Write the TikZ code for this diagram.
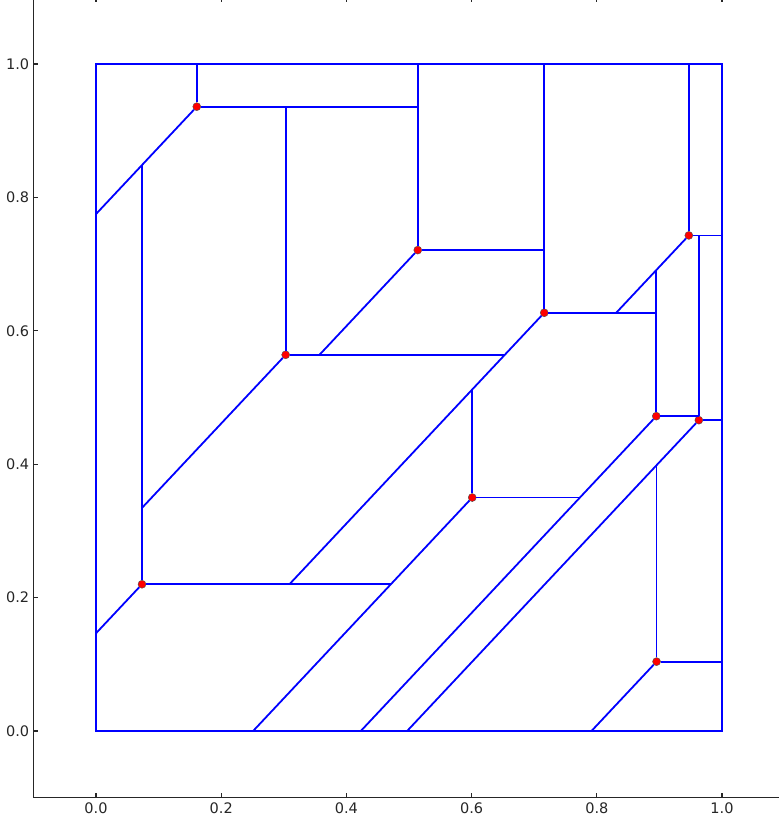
\documentclass[tikz,border=0pt]{standalone}
\usepackage{fontspec}
\setmainfont{DejaVu Sans}
\begin{document}
\begin{tikzpicture}[x=626pt,y=667pt,
  edge/.style={blue,line width=1.8pt},
  site/.style={circle,fill=red,draw=black!70,line width=0.4pt,inner sep=0pt,minimum size=8pt},
  spine/.style={black!85,line width=1.2pt},
  lbl/.style={font=\fontsize{14.5}{16}\selectfont,text=black!85,inner sep=0pt}]
  \useasboundingbox (-0.15335,-0.13793) rectangle (1.08946,1.09595);
  % axes
  \draw[spine] (-0.1,1.2) -- (-0.1,-0.1) -- (1.2,-0.1);
  \foreach \t in {0.0,0.2,0.4,0.6,0.8,1.0} {
    \draw[spine] (\t,-0.1) -- ++(0,5pt);
    \draw[spine] (\t,1.1) -- ++(0,-5pt);
    \draw[spine] (-0.1,\t) -- ++(5pt,0);
    \node[lbl,anchor=base] at (\t,-0.1234) {\t};
    \node[lbl,anchor=base east] at ([xshift=-4pt,yshift=-5.3pt]-0.1,\t) {\t};
  }
  % sites
  \node[site] (p1) at (0.161,0.936) {};
  \node[site] (p2) at (0.303,0.564) {};
  \node[site] (p3) at (0.514,0.721) {};
  \node[site] (p4) at (0.716,0.627) {};
  \node[site] (p5) at (0.947,0.743) {};
  \node[site] (p6) at (0.895,0.472) {};
  \node[site] (p7) at (0.963,0.466) {};
  \node[site] (p8) at (0.601,0.350) {};
  \node[site] (p9) at (0.0735,0.220) {};
  \node[site] (p10) at (0.8955,0.104) {};
  % border points
  \coordinate (o) at (0,0);
  \coordinate (c) at (1,1);
  \coordinate (top1) at (0.161,1);
  \coordinate (top3) at (0.514,1);
  \coordinate (top4) at (0.716,1);
  \coordinate (top5) at (0.947,1);
  \coordinate (bot8) at (0.251,0);
  \coordinate (bot6) at (0.423,0);
  \coordinate (bot7) at (0.497,0);
  \coordinate (bot10) at (0.7915,0);
  \coordinate (lft1) at (0,0.775);
  \coordinate (lft9) at (0,0.1465);
  \coordinate (rgt5) at (1,0.743);
  \coordinate (rgt7) at (1,0.466);
  \coordinate (rgt10) at (1,0.104);
  % inner junctions
  \coordinate (j1) at (0.0735,0.8485);
  \coordinate (j2) at (0.514,0.936);
  \coordinate (j3) at (0.303,0.936);
  \coordinate (j4) at (0.653,0.564);
  \coordinate (j5) at (0.0735,0.3345);
  \coordinate (j6) at (0.716,0.721);
  \coordinate (j7) at (0.357,0.564);
  \coordinate (j8) at (0.895,0.627);
  \coordinate (j9) at (0.309,0.220);
  \coordinate (j10) at (0.963,0.743);
  \coordinate (j11) at (0.831,0.627);
  \coordinate (j12) at (0.895,0.691);
  \coordinate (j13) at (0.963,0.472);
  \coordinate (j14) at (0.8955,0.398);
  \coordinate (j15) at (0.601,0.512);
  \coordinate (j16) at (0.773,0.350);
  \coordinate (j17) at (0.471,0.220);
  % edges
  \draw[edge] (o) rectangle (c);
  \draw[edge] (p1) -- (top1);
  \draw[edge] (p1) -- (j2);
  \draw[edge] (p1) -- (lft1);
  \draw[edge] (j1) -- (p9);
  \draw[edge] (p2) -- (j3);
  \draw[edge] (p2) -- (j4);
  \draw[edge] (p2) -- (j5);
  \draw[edge] (p3) -- (top3);
  \draw[edge] (p3) -- (j6);
  \draw[edge] (p3) -- (j7);
  \draw[edge] (p4) -- (top4);
  \draw[edge] (p4) -- (j8);
  \draw[edge] (p4) -- (j9);
  \draw[edge] (p5) -- (top5);
  \draw[edge] (p5) -- (rgt5);
  \draw[edge] (p5) -- (j11);
  \draw[edge] (j10) -- (p7);
  \draw[edge] (p6) -- (j12);
  \draw[edge] (p6) -- (j13);
  \draw[edge] (p6) -- (bot6);
  \draw[edge] (p7) -- (rgt7);
  \draw[edge] (p7) -- (bot7);
  \draw[edge] (j14) -- (p10);
  \draw[edge] (p10) -- (rgt10);
  \draw[edge] (p10) -- (bot10);
  \draw[edge] (p8) -- (j15);
  \draw[edge] (p8) -- (j16);
  \draw[edge] (p8) -- (bot8);
  \draw[edge] (p9) -- (j17);
  \draw[edge] (p9) -- (lft9);
\end{tikzpicture}
\end{document}
